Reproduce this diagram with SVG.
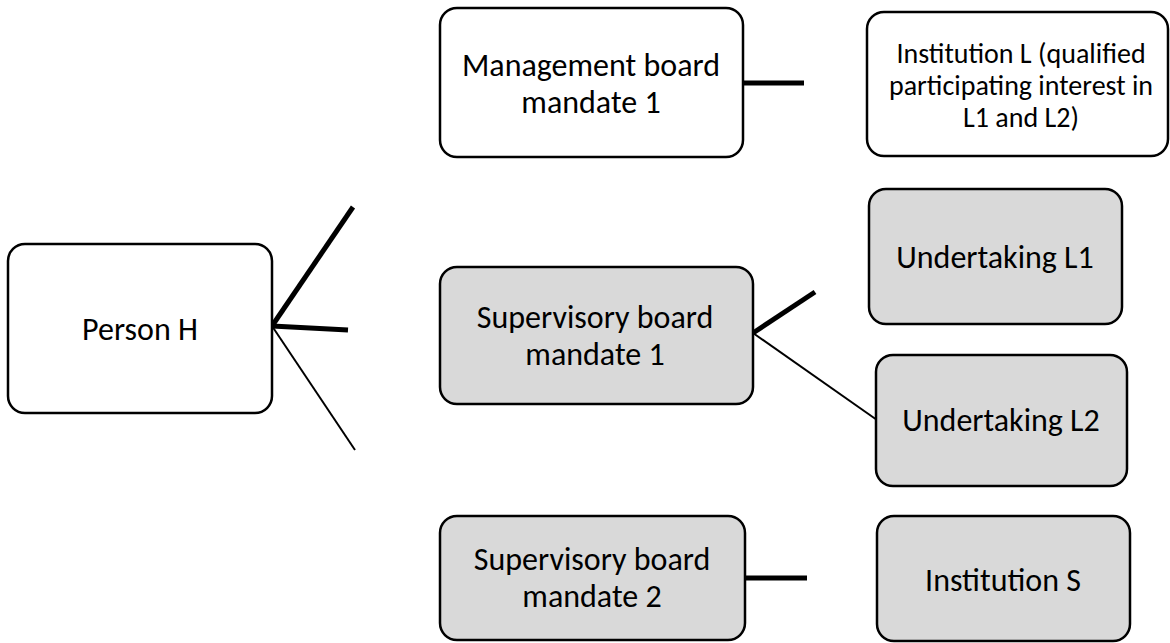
<svg xmlns="http://www.w3.org/2000/svg" width="1170" height="643" viewBox="0 0 1170 643">
  <style>
    .box { stroke: #000; stroke-width: 2.5; }
    .plain { fill: #fff; }
    .grey { fill: #d9d9d9; }
    text { font-family: Carlito, Lato, "Liberation Sans", sans-serif; font-size: 32px; fill: #000; text-anchor: middle; }
    .small { font-size: 28px; }
    .thick { stroke: #000; stroke-width: 5; fill: none; }
    .thin { stroke: #000; stroke-width: 2; fill: none; }
  </style>
  <rect width="1170" height="643" fill="#fff"/>

  <g id="connectors">
    <line class="thick" x1="272" y1="326" x2="353" y2="207"/>
    <line class="thick" x1="272" y1="326" x2="348" y2="330"/>
    <line class="thin" x1="272" y1="326" x2="355" y2="450"/>
    <line class="thick" x1="743" y1="83" x2="804" y2="83"/>
    <line class="thick" x1="753" y1="333" x2="815" y2="292"/>
    <line class="thin" x1="753" y1="333" x2="877" y2="420"/>
    <line class="thick" x1="745" y1="578" x2="807" y2="578"/>
  </g>

  <g id="person-h">
    <rect class="box plain" x="8" y="244" width="264" height="169" rx="17"/>
    <text x="140" y="340">Person H</text>
  </g>

  <g id="management-board-1">
    <rect class="box plain" x="440" y="8" width="303" height="149" rx="17"/>
    <text x="591" y="76">Management board</text>
    <text x="591" y="113">mandate 1</text>
  </g>

  <g id="institution-l">
    <rect class="box plain" x="867" y="12" width="301" height="144" rx="17"/>
    <text class="small" x="1021" y="63">Institution L (qualified</text>
    <text class="small" x="1021" y="95">participating interest in</text>
    <text class="small" x="1021" y="127">L1 and L2)</text>
  </g>

  <g id="supervisory-board-1">
    <rect class="box grey" x="440" y="267" width="313" height="137" rx="17"/>
    <text x="595" y="328">Supervisory board</text>
    <text x="595" y="365">mandate 1</text>
  </g>

  <g id="undertaking-l1">
    <rect class="box grey" x="869" y="189" width="253" height="135" rx="17"/>
    <text x="995" y="268">Undertaking L1</text>
  </g>

  <g id="undertaking-l2">
    <rect class="box grey" x="876" y="355" width="251" height="131" rx="17"/>
    <text x="1001" y="431">Undertaking L2</text>
  </g>

  <g id="supervisory-board-2">
    <rect class="box grey" x="440" y="516" width="305" height="124" rx="17"/>
    <text x="592" y="570">Supervisory board</text>
    <text x="592" y="607">mandate 2</text>
  </g>

  <g id="institution-s">
    <rect class="box grey" x="877" y="516" width="253" height="125" rx="17"/>
    <text x="1003" y="591">Institution S</text>
  </g>
</svg>
